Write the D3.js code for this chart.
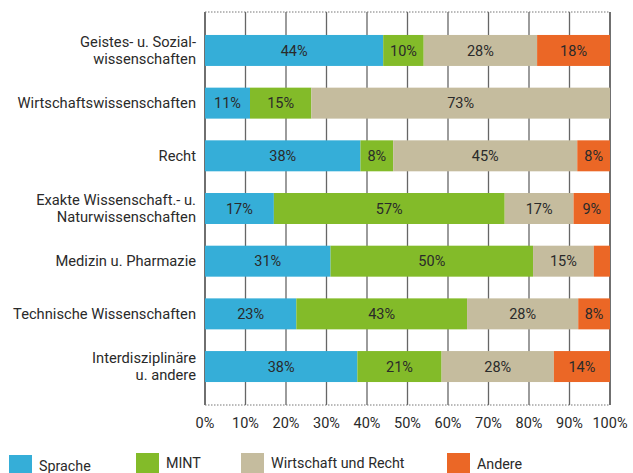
<!DOCTYPE html>
<html><head><meta charset="utf-8">
<script src="https://cdn.jsdelivr.net/npm/d3@7"></script>
<style>body{margin:0;background:#fff}svg{display:block}</style>
</head><body>
<script>
const categories = [
  ["Geistes- u. Sozial-", "wissenschaften"],
  ["Wirtschaftswissenschaften"],
  ["Recht"],
  ["Exakte Wissenschaft.- u.", "Naturwissenschaften"],
  ["Medizin u. Pharmazie"],
  ["Technische Wissenschaften"],
  ["Interdisziplinäre", "u. andere"]
];
const seriesNames = ["Sprache", "MINT", "Wirtschaft und Recht", "Andere"];
const sprache = [44, 11, 38, 17, 31, 23, 38];
const mint = [10, 15, 8, 57, 50, 43, 21];
const wirtschaft = [28, 73, 45, 17, 15, 28, 28];
const andere = [18, 0, 8, 9, 4, 8, 14];
const showLabel = [
  [true, true, true, true],
  [true, true, true, false],
  [true, true, true, true],
  [true, true, true, true],
  [true, true, true, false],
  [true, true, true, true],
  [true, true, true, true]
];
const tickValues = [0, 10, 20, 30, 40, 50, 60, 70, 80, 90, 100];
const colors = ["#35AED8", "#83BB29", "#C5BC9E", "#EB6726"];

const W = 633, H = 473;
const svg = d3.select("body").append("svg").attr("width", W).attr("height", H);
const font = "Roboto, 'DejaVu Sans', sans-serif";

const x = d3.scaleLinear().domain([0, 100]).range([205, 610]);
const y = d3.scaleBand().domain(d3.range(categories.length)).range([12, 405])
  .paddingInner(0.412).paddingOuter(0.436);

const rows = categories.map((c, i) => {
  const vals = [sprache[i], mint[i], wirtschaft[i], andere[i]];
  const total = d3.sum(vals);
  let acc = 0;
  return vals.map((v, k) => {
    const s = acc / total * 100; acc += v;
    return {row: i, k, v, x0: s, x1: acc / total * 100};
  });
});

// grid
const g = svg.append("g");
g.selectAll("line.grid").data(tickValues).join("line")
  .attr("x1", d => x(d)).attr("x2", d => x(d))
  .attr("y1", 12).attr("y2", 405)
  .attr("stroke", d => (d === 0 || d === 100) ? "#222" : "#666").attr("stroke-width", 1.3);
[12, 405].forEach(yy => {
  g.append("line").attr("x1", x(0)).attr("x2", x(100)).attr("y1", yy).attr("y2", yy)
    .attr("stroke", "#777").attr("stroke-width", 1).attr("stroke-dasharray", "1.5,1.5");
});

// bars
const segs = rows.flat();
svg.selectAll("rect.bar").data(segs).join("rect")
  .attr("x", d => x(d.x0)).attr("width", d => x(d.x1) - x(d.x0))
  .attr("y", d => y(d.row)).attr("height", y.bandwidth())
  .attr("fill", d => colors[d.k]);

svg.selectAll("text.val").data(segs.filter(d => showLabel[d.row][d.k] && d.v > 0)).join("text")
  .attr("x", d => (x(d.x0) + x(d.x1)) / 2)
  .attr("y", d => y(d.row) + y.bandwidth() / 2)
  .attr("dy", "0.36em").attr("text-anchor", "middle")
  .attr("font-family", font).attr("font-size", 14.5).attr("fill", "#2a2a2a")
  .text(d => d.v + "%");

// category labels
categories.forEach((lines, i) => {
  const cy = y(i) + y.bandwidth() / 2;
  const t = svg.append("text").attr("text-anchor", "end")
    .attr("font-family", font).attr("font-size", 14.7).attr("fill", "#2a2a2a");
  lines.forEach((ln, j) => {
    t.append("tspan").attr("x", 196)
      .attr("y", cy + (j - (lines.length - 1) / 2) * 17)
      .attr("dy", "0.36em").text(ln);
  });
});

// x axis labels
svg.selectAll("text.tick").data(tickValues).join("text")
  .attr("x", d => x(d)).attr("y", 423).attr("dy", "0.36em")
  .attr("text-anchor", "middle").attr("font-family", font).attr("font-size", 14.5)
  .attr("fill", "#2a2a2a").text(d => d + "%");

// legend
const legX = [9, 136, 241, 447];
const legY = [455, 453, 453, 453];
const legTy = [466, 463, 463, 464];
seriesNames.forEach((n, k) => {
  svg.append("rect").attr("x", legX[k]).attr("y", legY[k]).attr("width", 23).attr("height", 20)
    .attr("fill", colors[k]);
  svg.append("text").attr("x", legX[k] + 30).attr("y", legTy[k]).attr("dy", "0.36em")
    .attr("font-family", font).attr("font-size", 14.3).attr("fill", "#2a2a2a").text(n);
});
</script>
</body></html>
